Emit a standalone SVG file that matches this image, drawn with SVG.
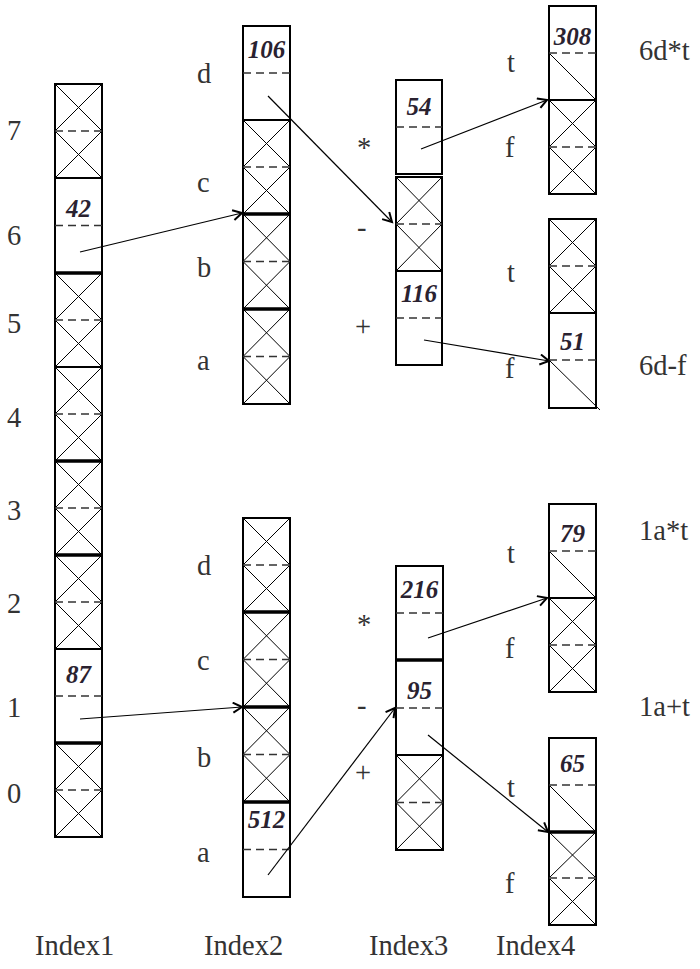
<svg xmlns="http://www.w3.org/2000/svg" width="700" height="969" viewBox="0 0 700 969">
<style>
.box{fill:none;stroke:#000;stroke-width:2}
.sep{stroke:#000;stroke-width:2}
.thk{stroke:#000;stroke-width:3.5}
.dash{stroke:#333;stroke-width:1.4;stroke-dasharray:8 5}
.x{stroke:#000;stroke-width:1;fill:none}
.lbl{font-family:"Liberation Serif","Times New Roman",serif;font-size:28.5px;fill:#333}
.num{font-family:"Liberation Serif","Times New Roman",serif;font-size:25px;font-weight:bold;font-style:italic;fill:#2a2230;text-anchor:middle}
.conn{stroke:#000;stroke-width:1.2;fill:none;marker-end:url(#arr)}
</style>
<defs>
<marker id="arr" markerUnits="userSpaceOnUse" markerWidth="14" markerHeight="14" refX="10" refY="6" orient="auto">
<path d="M1,1 L10,6 L1,11" fill="none" stroke="#000" stroke-width="2"/>
</marker>
</defs>
<rect width="700" height="969" fill="#fff"/>

<g id="index1">
<rect class="box" x="55" y="84" width="47" height="753"/>
<path class="x" d="M55,84L102,131M55,131L102,84M55,131L102,178M55,178L102,131
M55,273L102,320M55,320L102,273M55,320L102,367M55,367L102,320
M55,367L102,414M55,414L102,367M55,414L102,461M55,461L102,414
M55,461L102,508M55,508L102,461M55,508L102,555M55,555L102,508
M55,555L102,602M55,602L102,555M55,602L102,649M55,649L102,602
M55,743L102,790M55,790L102,743M55,790L102,837M55,837L102,790"/>
<path class="sep" d="M55,178H102M55,367H102M55,649H102"/>
<path class="thk" d="M55,273H102M55,461H102M55,555H102M55,743H102"/>
<path class="dash" d="M55,131H102M55,225.5H102M55,320H102M55,414H102M55,508H102M55,602H102M55,696H102M55,790H102"/>
<text class="num" x="78.5" y="217">42</text>
<text class="num" x="78.5" y="683">87</text>
<text class="lbl" x="7" y="140">7</text>
<text class="lbl" x="7" y="245">6</text>
<text class="lbl" x="7" y="333">5</text>
<text class="lbl" x="7" y="427">4</text>
<text class="lbl" x="7" y="520">3</text>
<text class="lbl" x="7" y="613">2</text>
<text class="lbl" x="7" y="717">1</text>
<text class="lbl" x="7" y="803">0</text>
</g>

<g id="index2-upper">
<rect class="box" x="243" y="26" width="47" height="378"/>
<path class="x" d="M243,120L290,167M243,167L290,120M243,167L290,214M243,214L290,167
M243,214L290,261.5M243,261.5L290,214M243,261.5L290,309M243,309L290,261.5
M243,309L290,356.5M243,356.5L290,309M243,356.5L290,404M243,404L290,356.5"/>
<path class="sep" d="M243,120H290"/>
<path class="thk" d="M243,214H290M243,309H290"/>
<path class="dash" d="M243,73H290M243,167H290M243,261.5H290M243,356.5H290"/>
<text class="num" x="266.5" y="58">106</text>
<text class="lbl" x="197" y="83">d</text>
<text class="lbl" x="197" y="192">c</text>
<text class="lbl" x="197" y="277">b</text>
<text class="lbl" x="197" y="370">a</text>
</g>

<g id="index2-lower">
<rect class="box" x="243" y="518" width="47" height="379"/>
<path class="x" d="M243,518L290,565M243,565L290,518M243,565L290,612M243,612L290,565
M243,612L290,659.5M243,659.5L290,612M243,659.5L290,707M243,707L290,659.5
M243,707L290,754.5M243,754.5L290,707M243,754.5L290,802M243,802L290,754.5"/>
<path class="thk" d="M243,612H290M243,707H290M243,802H290"/>
<path class="dash" d="M243,565H290M243,659.5H290M243,754.5H290M243,849.5H290"/>
<text class="num" x="266.5" y="828">512</text>
<text class="lbl" x="197" y="575">d</text>
<text class="lbl" x="197" y="670">c</text>
<text class="lbl" x="197" y="767">b</text>
<text class="lbl" x="197" y="862">a</text>
</g>

<g id="index3-upper">
<rect class="box" x="396" y="80" width="46" height="94"/>
<rect class="box" x="396" y="177" width="46" height="188"/>
<path class="x" d="M396,177L442,224M396,224L442,177M396,224L442,271M396,271L442,224"/>
<path class="sep" d="M396,271H442"/>
<path class="dash" d="M396,127H442M396,224H442M396,318H442"/>
<text class="num" x="419" y="115">54</text>
<text class="num" x="419" y="302">116</text>
<text class="lbl" x="357" y="157">*</text>
<text class="lbl" x="357" y="237">-</text>
<text class="lbl" x="355" y="336">+</text>
</g>

<g id="index3-lower">
<rect class="box" x="396" y="566" width="47" height="284"/>
<path class="x" d="M396,755L443,802.5M396,802.5L443,755M396,802.5L443,850M396,850L443,802.5"/>
<path class="thk" d="M396,660H443"/>
<path class="sep" d="M396,755H443"/>
<path class="dash" d="M396,613H443M396,708H443M396,802.5H443"/>
<text class="num" x="419.5" y="598">216</text>
<text class="num" x="419.5" y="699">95</text>
<text class="lbl" x="357" y="634">*</text>
<text class="lbl" x="357" y="715">-</text>
<text class="lbl" x="355" y="782">+</text>
</g>

<g id="index4-a">
<rect class="box" x="549" y="6" width="47" height="188"/>
<path class="x" d="M549,53L596,100M549,100L596,147M549,147L596,100M549,147L596,194M549,194L596,147"/>
<path class="sep" d="M549,100H596"/>
<path class="dash" d="M549,53H596M549,147H596"/>
<text class="num" x="572.5" y="45">308</text>
<text class="lbl" x="507" y="72">t</text>
<text class="lbl" x="505" y="157">f</text>
<text class="lbl" x="639" y="60">6d*t</text>
</g>

<g id="index4-b">
<rect class="box" x="549" y="219" width="47" height="189"/>
<path class="x" d="M549,219L596,266M549,266L596,219M549,266L596,313M549,313L596,266M549,360L600,410"/>
<path class="sep" d="M549,313H596"/>
<path class="dash" d="M549,266H596M549,360H596"/>
<text class="num" x="572.5" y="350">51</text>
<text class="lbl" x="507" y="282">t</text>
<text class="lbl" x="505" y="378">f</text>
<text class="lbl" x="639" y="375">6d-f</text>
</g>

<g id="index4-c">
<rect class="box" x="549" y="504" width="47" height="188"/>
<path class="x" d="M549,551L596,598M549,598L596,645M549,645L596,598M549,645L596,692M549,692L596,645"/>
<path class="sep" d="M549,598H596"/>
<path class="dash" d="M549,551H596M549,645H596"/>
<text class="num" x="572.5" y="542">79</text>
<text class="lbl" x="507" y="563">t</text>
<text class="lbl" x="505" y="658">f</text>
<text class="lbl" x="639" y="540">1a*t</text>
</g>

<g id="index4-d">
<rect class="box" x="549" y="738" width="47" height="187"/>
<path class="x" d="M549,785L596,832M549,832L596,878M549,878L596,832M549,878L596,925M549,925L596,878"/>
<path class="thk" d="M549,832H596"/>
<path class="dash" d="M549,785H596M549,878H596"/>
<text class="num" x="572.5" y="772">65</text>
<text class="lbl" x="507" y="797">t</text>
<text class="lbl" x="505" y="893">f</text>
<text class="lbl" x="639" y="716">1a+t</text>
</g>

<g id="captions">
<text class="lbl" x="35" y="955">Index1</text>
<text class="lbl" x="204" y="955">Index2</text>
<text class="lbl" x="369" y="955">Index3</text>
<text class="lbl" x="496" y="955">Index4</text>
</g>

<g id="connectors">
<path class="conn" d="M80,252L242,213"/>
<path class="conn" d="M268,96L392,222"/>
<path class="conn" d="M421,149L547,100"/>
<path class="conn" d="M424,340L549,361"/>
<path class="conn" d="M80,719L242,707"/>
<path class="conn" d="M268,875L395,708"/>
<path class="conn" d="M428,638L547,598"/>
<path class="conn" d="M428,735L548,832"/>
</g>
</svg>
